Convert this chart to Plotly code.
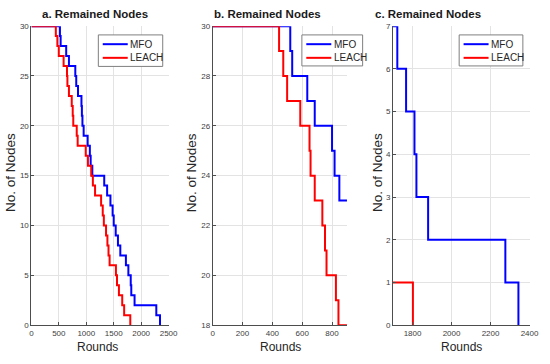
import plotly.graph_objects as go

# ---- data: round at which the number of remaining nodes drops by one (30 -> 0)
mfo_death_rounds = [520, 533, 634, 684, 800, 817, 849, 912, 920, 930, 952, 1025,
                    1065, 1080, 1110, 1327, 1380, 1440, 1480, 1500, 1536, 1577,
                    1620, 1722, 1767, 1810, 1820, 1880, 2276, 2343]
leach_death_rounds = [445, 473, 499, 587, 649, 656, 684, 735, 753, 763, 826, 843,
                      990, 1030, 1090, 1120, 1160, 1270, 1300, 1320, 1360, 1385,
                      1405, 1425, 1540, 1560, 1595, 1655, 1690, 1802]
initial_nodes = 30
series_names = ["MFO", "LEACH"]
series_colors = ["#0000ff", "#ff0000"]

panel_titles = ["a. Remained Nodes", "b. Remained Nodes", "c. Remained Nodes"]
x_ranges = [[0, 2500], [0, 900], [1700, 2400]]
y_ranges = [[0, 30], [18, 30], [0, 7]]
x_ticks = [[0, 500, 1000, 1500, 2000, 2500], [0, 200, 400, 600, 800], [1800, 2000, 2200, 2400]]
y_ticks = [[0, 5, 10, 15, 20, 25, 30], [18, 20, 22, 24, 26, 28, 30], [0, 1, 2, 3, 4, 5, 6, 7]]


def stairs(death_rounds):
    xs = [0] + list(death_rounds)
    ys = list(range(initial_nodes, initial_nodes - len(death_rounds) - 1, -1))
    return xs, ys


W, H = 550, 364
FONT = "Liberation Sans, Arial, sans-serif"
# pixel geometry of each panel: (left, right, top, bottom)
boxes = [(30, 170, 22.7, 329.3), (215, 352, 22.7, 329.3), (399, 538.3, 22.7, 329.3)]
# legend boxes: (left, right, top, bottom)
legend_boxes = [(98.3, 164, 31.7, 64), (306, 368, 31.7, 63.5), (466.5, 531.5, 31.7, 63.5)]
title_cx = [95, 271, 435]
ylab_cx = [8.5, 193.5, 383]
xlab_cx = [97.5, 284, 469]


def px(x):
    return x / W


def py(y):
    return 1 - y / H


fig = go.Figure()
series = [stairs(mfo_death_rounds), stairs(leach_death_rounds)]

layout = dict(width=W, height=H, margin=dict(l=0, r=0, t=0, b=0),
              paper_bgcolor="white", plot_bgcolor="white", showlegend=False,
              font=dict(family=FONT, size=9, color="#262626"),
              annotations=[], shapes=[])

for i in range(3):
    sfx = "" if i == 0 else str(i + 1)
    for (sx, sy), name, col in zip(series, series_names, series_colors):
        fig.add_trace(go.Scatter(x=sx, y=sy, mode="lines", line_shape="hv", name=name,
                                 line=dict(color=col, width=2), hoverinfo="skip",
                                 xaxis="x" + sfx, yaxis="y" + sfx))
    l, r, t, b = boxes[i]
    axcommon = dict(showgrid=True, gridcolor="#e3e3e3", gridwidth=1,
                    showline=True, linecolor="#4d4d4d", linewidth=1,
                    ticks="inside", ticklen=3, tickcolor="#4d4d4d",
                    tickfont=dict(size=8, color="#404040", family=FONT),
                    zeroline=False, fixedrange=True)
    layout["xaxis" + sfx] = dict(domain=[px(l), px(r)], range=x_ranges[i],
                                 tickvals=x_ticks[i], anchor="y" + sfx, **axcommon)
    layout["yaxis" + sfx] = dict(domain=[py(b), py(t)], range=y_ranges[i],
                                 tickvals=y_ticks[i], anchor="x" + sfx, **axcommon)
    # legend box
    bl, br, bt, bb = legend_boxes[i]
    layout["shapes"].append(dict(type="rect", xref="paper", yref="paper",
                                 x0=px(bl), x1=px(br), y0=py(bb), y1=py(bt),
                                 line=dict(color="#7f7f7f", width=1), fillcolor="white",
                                 layer="above"))
    for k, (name, col) in enumerate(zip(series_names, series_colors)):
        yy = bt + 9.5 + k * 14
        layout["shapes"].append(dict(type="line", xref="paper", yref="paper",
                                     x0=px(bl + 4.5), x1=px(bl + 30), y0=py(yy), y1=py(yy),
                                     line=dict(color=col, width=2), layer="above"))
        layout["annotations"].append(dict(text=name, x=px(bl + 30.5), y=py(yy),
                                          xref="paper", yref="paper", showarrow=False,
                                          xanchor="left", yanchor="middle",
                                          font=dict(size=10, color="#262626", family=FONT)))
    layout["annotations"] += [
        dict(text="<b>" + panel_titles[i] + "</b>", x=px(title_cx[i]), y=py(10),
             xref="paper", yref="paper", showarrow=False,
             font=dict(size=11.5, color="#1a1a1a", family=FONT), xanchor="center", yanchor="middle"),
        dict(text="No. of Nodes", x=px(ylab_cx[i]), y=py(173), textangle=-90,
             xref="paper", yref="paper", showarrow=False,
             font=dict(size=13.5, color="#262626", family=FONT), xanchor="center", yanchor="middle"),
        dict(text="Rounds", x=px(xlab_cx[i]), y=py(352),
             xref="paper", yref="paper", showarrow=False,
             font=dict(size=12, color="#262626", family=FONT), xanchor="center", yanchor="middle"),
    ]

fig.update_layout(**layout)
fig.write_html("out.html", config={"displayModeBar": False, "staticPlot": True},
               post_script="document.body.style.margin='0';document.body.style.overflow='hidden';")
